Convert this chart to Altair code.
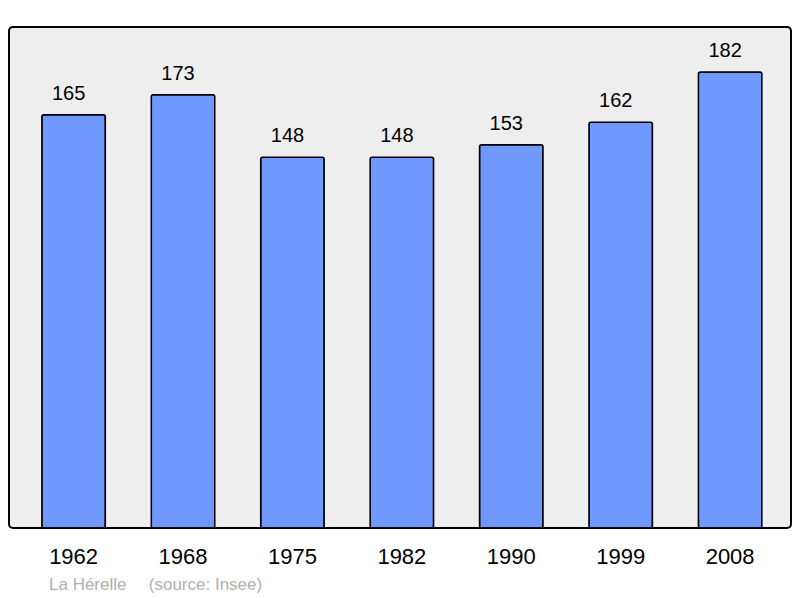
import altair as alt
import pandas as pd

years = ["1962", "1968", "1975", "1982", "1990", "1999", "2008"]
population = [165, 173, 148, 148, 153, 162, 182]

df = pd.DataFrame({"year": years, "pop": population})

FONT = "Liberation Sans"

base = alt.Chart(df).encode(
    x=alt.X(
        "year:N",
        sort=None,
        scale=alt.Scale(paddingInner=0.42, paddingOuter=0.2834, align=0.53),
        axis=alt.Axis(
            title=None, labelAngle=0, domain=False, ticks=False,
            labelFontSize=22, labelFont=FONT, labelColor="black",
            labelPadding=18,
        ),
    )
)

bars = base.mark_bar(
    color="#7099ff", stroke="black", strokeWidth=1.5, cornerRadius=2
).encode(
    y=alt.Y("pop:Q", scale=alt.Scale(domain=[0, 200], nice=False), axis=None)
)

labels = base.mark_text(
    baseline="alphabetic", dy=-15, dx=-5, fontSize=20, font=FONT, color="black"
).encode(
    y=alt.Y("pop:Q"),
    text=alt.Text("pop:Q"),
)

chart = (
    alt.layer(bars, labels)
    .properties(
        width=782,
        height=501,
        autosize=alt.AutoSizeParams(type="none"),
        padding={"left": 1, "top": 19, "right": 1, "bottom": 66},
        title=alt.TitleParams(
            "La H\u00e9relle\u00a0\u00a0\u00a0\u00a0\u2009(source: Insee)",
            orient="bottom", anchor="start", frame="group", dx=40,
            fontSize=17, font=FONT, color="#b0b0b0", fontWeight="normal",
            offset=10,
        ),
    )
    .configure_view(fill="#eeeeee", stroke="black", strokeWidth=2, cornerRadius=4)
)

chart.save("out.html", embed_options={"renderer": "svg", "actions": False})
